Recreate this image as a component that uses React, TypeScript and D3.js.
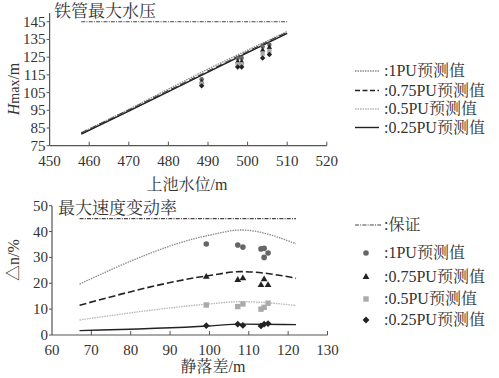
import React from "react";
import * as d3 from "d3";

// ---------- Top chart data ----------
const topLineX = [458, 470, 480, 490, 500, 510];
const top1PU = [82.3, 95.5, 107, 118.3, 129, 139.5];
const top075PU = [82, 95, 106, 117, 128, 139];
const top05PU = [81.8, 94.8, 105.8, 116.8, 127.8, 138.8];
const top025PU = [81.5, 94.5, 105.5, 116.5, 127.5, 138.5];
const topGuarantee = 145;
const topGuaranteeX = [458, 510];
const topPtX = [488.4, 497.5, 498.5, 503.8, 505.5];
const topPt1PU = [112.5, 124.5, 124.5, 131, 132];
const topPt075PU = [111, 122.5, 122.5, 129, 130.5];
const topPt05PU = [110, 121, 121, 127, 128.5];
const topPt025PU = [108.8, 119.5, 119.5, 124.5, 126.5];
const topXTicks = [450, 460, 470, 480, 490, 500, 510, 520];
const topYTicks = [75, 85, 95, 105, 115, 125, 135, 145];

// ---------- Bottom chart data ----------
const botLineX = [67, 100, 108, 122];
const bot1PU = [19.7, 38.6, 40.6, 35.3];
const bot075PU = [11.5, 23, 24.5, 22];
const bot05PU = [5.8, 12, 12.9, 11.4];
const bot025PU = [1.7, 3.5, 4.2, 4.0];
const botGuarantee = 45;
const botGuaranteeX = [67, 122];
const botPt1X = [99.2, 107.2, 108.5, 113.1, 113.9, 114.9, 113.9];
const botPt1 = [35.2, 34.8, 34.0, 33.3, 33.5, 31.7, 30.0];
const botPtX = [99.2, 107.2, 108.5, 113.1, 113.9, 114.9];
const botPt075 = [22.5, 21.3, 21.9, 19.3, 21.5, 19.3];
const botPt05 = [11.6, 11.0, 12.0, 10.0, 10.7, 12.3];
const botPt025 = [3.6, 4.2, 3.7, 3.5, 4.2, 4.4];
const botXTicks = [60, 70, 80, 90, 100, 110, 120, 130];
const botYTicks = [0, 10, 20, 30, 40, 50];

const topLegend = [":1PU预测值", ":0.75PU预测值", ":0.5PU预测值", ":0.25PU预测值"];
const botLegend = [":保证", ":1PU预测值", ":0.75PU预测值", ":0.5PU预测值", ":0.25PU预测值"];

const FONT = "'Liberation Serif', 'Times New Roman', 'Noto Serif CJK SC', 'Noto Sans CJK SC', serif";
const TXT = "#333";
const AX = "#555";

const styles = {
  p1: { stroke: "#8a8a8a", dash: "1.5 1", width: 1.3 },
  p075: { stroke: "#222", dash: "7 3", width: 1.6 },
  p05: { stroke: "#b5b5b5", dash: "1.5 1", width: 1.3 },
  p025: { stroke: "#222", dash: "", width: 1.4 },
  g: { stroke: "#444", dash: "4 1.2 1 1.2", width: 1.2 },
};

function Marker({ type, x, y, s = 1 }: { type: string; x: number; y: number; s?: number }) {
  if (type === "circle") return <circle cx={x} cy={y} r={2.8 * s} fill="#666" />;
  if (type === "tri")
    return <path d={d3.symbol(d3.symbolTriangle, 20 * s * s)() || ""} transform={`translate(${x},${y})`} fill="#222" />;
  if (type === "sq") return <rect x={x - 2.7 * s} y={y - 2.7 * s} width={5.4 * s} height={5.4 * s} fill="#aaa" />;
  const r = 3.4 * s;
  return <path d={`M${x},${y - r}L${x + r},${y}L${x},${y + r}L${x - r},${y}Z`} fill="#222" />;
}

export default function App() {
  const tx = d3.scaleLinear().domain([450, 520]).range([49.6, 326.8]);
  const ty = d3.scaleLinear().domain([75, 150]).range([145.7, 12.9]);
  const bx = d3.scaleLinear().domain([60, 130]).range([52, 327.5]);
  const by = d3.scaleLinear().domain([0, 50]).range([335, 205.7]);

  const topLine = d3
    .line<[number, number]>()
    .x((d) => tx(d[0]))
    .y((d) => ty(d[1]));
  const botLine = d3
    .line<[number, number]>()
    .x((d) => bx(d[0]))
    .y((d) => by(d[1]))
    .curve(d3.curveMonotoneX);

  const zip = (a: number[], b: number[]) => a.map((v, i) => [v, b[i]] as [number, number]);

  const topSeries = [
    { v: top1PU, st: styles.p1 },
    { v: top075PU, st: styles.p075 },
    { v: top05PU, st: styles.p05 },
    { v: top025PU, st: styles.p025 },
  ];
  const botSeries = [
    { v: bot1PU, st: styles.p1 },
    { v: bot075PU, st: styles.p075 },
    { v: bot05PU, st: styles.p05 },
    { v: bot025PU, st: styles.p025 },
  ];
  const topPts = [
    { v: topPt1PU, t: "circle" },
    { v: topPt075PU, t: "tri" },
    { v: topPt05PU, t: "sq" },
    { v: topPt025PU, t: "dia" },
  ];
  const botPts = [
    { xs: botPt1X, v: botPt1, t: "circle" },
    { xs: botPtX, v: botPt075, t: "tri" },
    { xs: botPtX, v: botPt05, t: "sq" },
    { xs: botPtX, v: botPt025, t: "dia" },
  ];

  const topLegY = [71, 90.5, 109, 127.5];
  const botLegY = [225, 253, 277, 299, 320];
  const topLegStyles = [styles.p1, styles.p075, styles.p05, styles.p025];
  const botLegTypes = ["circle", "tri", "sq", "dia"];

  return (
    <svg
      width={499}
      height={378}
      style={{ position: "absolute", left: 0, top: 0, background: "#fff" }}
      fontFamily={FONT}
    >
      <rect width={499} height={378} fill="#fff" />
      {/* ================= TOP CHART ================= */}
      <text x={54} y={17} fontSize={17} fill={TXT}>铁管最大水压</text>
      <line x1={tx(450)} x2={tx(450)} y1={ty(150)} y2={ty(75)} stroke={AX} strokeWidth={1.2} />
      <line x1={tx(450)} x2={tx(520)} y1={ty(75)} y2={ty(75)} stroke={AX} strokeWidth={1.2} />
      {topYTicks.map((t) => (
        <g key={"ty" + t}>
          <line x1={tx(450) - 3} x2={tx(450)} y1={ty(t)} y2={ty(t)} stroke={AX} />
          <text x={tx(450) - 4} y={ty(t) + 5} fontSize={15} textAnchor="end" fill={TXT}>{t}</text>
        </g>
      ))}
      {topXTicks.map((t) => (
        <g key={"tx" + t}>
          {t !== 450 && <line x1={tx(t)} x2={tx(t)} y1={ty(75)} y2={ty(75) - 4} stroke={AX} />}
          <text x={tx(t)} y={166} fontSize={15} textAnchor="middle" fill={TXT}>{t}</text>
        </g>
      ))}
      <text x={187} y={190} fontSize={16} textAnchor="middle" fill={TXT}>上池水位/m</text>
      <text transform={`translate(19,89) rotate(-90)`} fontSize={16} textAnchor="middle" fill={TXT}>
        <tspan fontStyle="italic">H</tspan>
        <tspan fontSize={14}>max</tspan>/m
      </text>
      <line
        x1={tx(topGuaranteeX[0])}
        x2={tx(topGuaranteeX[1])}
        y1={ty(topGuarantee)}
        y2={ty(topGuarantee)}
        stroke={styles.g.stroke}
        strokeDasharray={styles.g.dash}
        strokeWidth={styles.g.width}
      />
      {topSeries.map((s, i) => (
        <path
          key={"tl" + i}
          d={topLine(zip(topLineX, s.v)) || ""}
          fill="none"
          stroke={s.st.stroke}
          strokeDasharray={s.st.dash}
          strokeWidth={s.st.width}
        />
      ))}
      {topPts.map((s, i) =>
        s.v.map((v, j) => <Marker key={`tp${i}-${j}`} type={s.t} x={tx(topPtX[j])} y={ty(v)} s={0.8} />)
      )}
      {topLegend.map((l, i) => (
        <g key={"tlg" + i}>
          <line
            x1={355}
            x2={379}
            y1={topLegY[i]}
            y2={topLegY[i]}
            stroke={topLegStyles[i].stroke}
            strokeDasharray={i === 1 ? "5 2.5" : topLegStyles[i].dash}
            strokeWidth={topLegStyles[i].width}
          />
          <text x={384} y={topLegY[i] + 5} fontSize={16} fill={TXT}>{l}</text>
        </g>
      ))}

      {/* ================= BOTTOM CHART ================= */}
      <text x={58} y={214} fontSize={17} fill={TXT}>最大速度变动率</text>
      <line x1={bx(60)} x2={bx(60)} y1={by(50)} y2={by(0)} stroke={AX} strokeWidth={1.2} />
      <line x1={bx(60)} x2={bx(130)} y1={by(0)} y2={by(0)} stroke={AX} strokeWidth={1.2} />
      {botYTicks.map((t) => (
        <g key={"by" + t}>
          <line x1={bx(60) - 3} x2={bx(60)} y1={by(t)} y2={by(t)} stroke={AX} />
          <text x={bx(60) - 4} y={by(t) + 5} fontSize={15} textAnchor="end" fill={TXT}>{t}</text>
        </g>
      ))}
      {botXTicks.map((t) => (
        <g key={"bx" + t}>
          {t !== 60 && <line x1={bx(t)} x2={bx(t)} y1={by(0)} y2={by(0) - 4} stroke={AX} />}
          <text x={bx(t)} y={355} fontSize={15} textAnchor="middle" fill={TXT}>{t}</text>
        </g>
      ))}
      <text x={213} y={372} fontSize={16} textAnchor="middle" fill={TXT}>静落差/m</text>
      <text transform={`translate(19,260) rotate(-90)`} fontSize={16} textAnchor="middle" fill={TXT}>
        △n/%
      </text>
      <line
        x1={bx(botGuaranteeX[0])}
        x2={bx(botGuaranteeX[1])}
        y1={by(botGuarantee)}
        y2={by(botGuarantee)}
        stroke={styles.g.stroke}
        strokeDasharray={styles.g.dash}
        strokeWidth={styles.g.width}
      />
      {botSeries.map((s, i) => (
        <path
          key={"bl" + i}
          d={botLine(zip(botLineX, s.v)) || ""}
          fill="none"
          stroke={s.st.stroke}
          strokeDasharray={s.st.dash}
          strokeWidth={s.st.width}
        />
      ))}
      {botPts.map((s, i) =>
        s.v.map((v, j) => <Marker key={`bp${i}-${j}`} type={s.t} x={bx(s.xs[j])} y={by(v)} />)
      )}
      <line
        x1={355}
        x2={381}
        y1={botLegY[0]}
        y2={botLegY[0]}
        stroke={styles.g.stroke}
        strokeDasharray={styles.g.dash}
        strokeWidth={styles.g.width}
      />
      {botLegTypes.map((t, i) => (
        <Marker key={"blm" + i} type={t} x={366} y={botLegY[i + 1]} />
      ))}
      {botLegend.map((l, i) => (
        <text key={"blt" + i} x={384} y={botLegY[i] + 5} fontSize={16} fill={TXT}>{l}</text>
      ))}
    </svg>
  );
}
